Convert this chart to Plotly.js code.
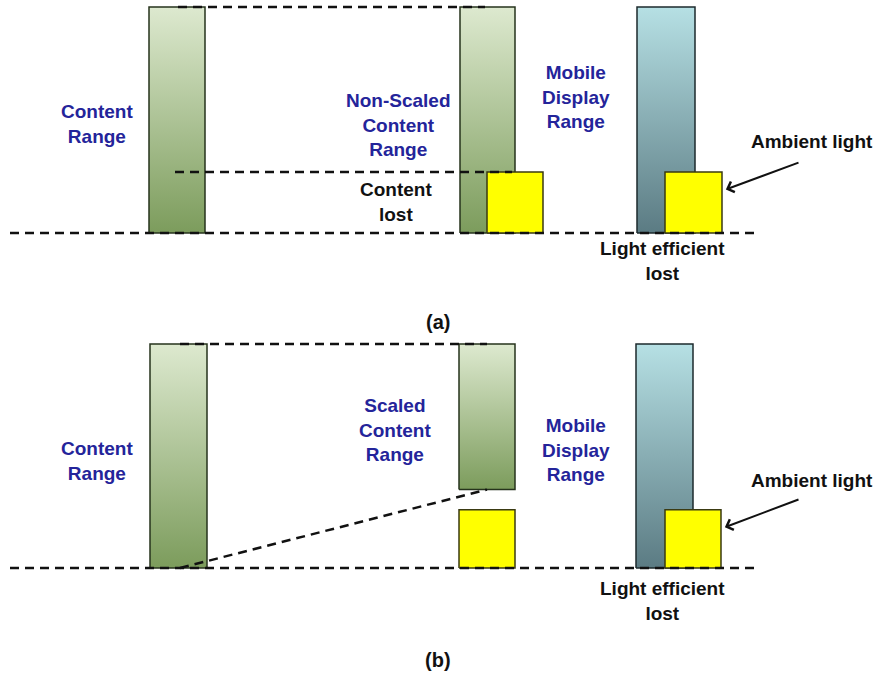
<!DOCTYPE html>
<html>
<head>
<meta charset="utf-8">
<script src="https://cdn.plot.ly/plotly-3.0.1.min.js"></script>
<style>html,body{margin:0;padding:0;background:#fff;}#chart{width:879px;height:675px;}</style>
</head>
<body>
<div id="chart"></div>
<script>
// ---- data (levels in % of content range) ----
const panelA_content = [0, 100];        // Content Range
const panelA_display = [0, 100];        // Non-scaled content on display
const panelA_mobile = [0, 100];         // Mobile display range
const panelA_ambient = [0, 27];         // Ambient light level
const panelA_lost = 27;                 // Content lost level

const panelB_content = [0, 100];
const panelB_scaled = [35, 100];        // Scaled content range
const panelB_ambientMid = [0, 26];      // ambient box under scaled content
const panelB_mobile = [0, 100];
const panelB_ambient = [0, 26];

// ---- style constants ----
const GREEN = [[0, '#7c9c5c'], [1, '#dde9cf']];
const CYAN = [[0, '#5b7b83'], [1, '#b6e0e4']];
const YELLOW = '#ffff00';
const BLUE = '#24249a';
const FONT = 'Liberation Sans, Arial, sans-serif';

function rect(x0, x1, lv, yaxis, fill, grad, line) {
  const t = {
    type: 'scatter', mode: 'lines', xaxis: 'x', yaxis: yaxis,
    x: [x0, x1, x1, x0, x0], y: [lv[0], lv[0], lv[1], lv[1], lv[0]],
    fill: 'toself', line: {color: line, width: 1.5}, hoverinfo: 'skip'
  };
  if (grad) t.fillgradient = {type: 'vertical', colorscale: grad, start: lv[0], stop: lv[1]};
  else t.fillcolor = fill;
  return t;
}
function dash(xs, ys, yaxis) {
  return {type: 'scatter', mode: 'lines', xaxis: 'x', yaxis: yaxis, x: xs, y: ys,
    line: {color: '#111', width: 2.5, dash: '9px,6px'}, hoverinfo: 'skip'};
}

const traces = [
  // panel (a)
  rect(149, 205, panelA_content, 'y', null, GREEN, '#26331c'),
  rect(460, 515, panelA_display, 'y', null, GREEN, '#26331c'),
  rect(487, 543, panelA_ambient, 'y', YELLOW, null, '#3a3a12'),
  rect(637, 695, panelA_mobile, 'y', null, CYAN, '#1d2a2d'),
  rect(665, 722, panelA_ambient, 'y', YELLOW, null, '#3a3a12'),
  dash([178, 485], [panelA_content[1], panelA_display[1]], 'y'),
  dash([175, 512], [panelA_lost, panelA_lost], 'y'),
  dash([10, 760], [0, 0], 'y'),
  // panel (b)
  rect(150, 207, panelB_content, 'y2', null, GREEN, '#26331c'),
  rect(459, 515, panelB_scaled, 'y2', null, GREEN, '#26331c'),
  rect(459, 515, panelB_ambientMid, 'y2', YELLOW, null, '#3a3a12'),
  rect(636, 693, panelB_mobile, 'y2', null, CYAN, '#1d2a2d'),
  rect(665, 721, panelB_ambient, 'y2', YELLOW, null, '#3a3a12'),
  dash([180, 487], [panelB_content[1], panelB_scaled[1]], 'y2'),
  dash([180, 487], [panelB_content[0], panelB_scaled[0]], 'y2'),
  dash([10, 760], [0, 0], 'y2')
];

function py(p) { return 1 - p / 675; }
function txt(text, x, p, color, size) {
  return {text: text, x: x, y: py(p), xref: 'x', yref: 'paper', showarrow: false,
    xanchor: 'center', yanchor: 'middle', align: 'center',
    font: {family: FONT, size: size || 19, color: color, weight: 'bold'}};
}
function arrow(x, yv, yref, ax, ay) {
  return {text: '', x: x, y: yv, xref: 'x', yref: yref, ax: ax, ay: ay,
    showarrow: true, arrowhead: 4, arrowsize: 1.1, arrowwidth: 2, arrowcolor: '#111', standoff: 2};
}

const annotations = [
  txt('<b>Content<br>Range</b>', 97, 124.5, BLUE),
  txt('<b>Non-Scaled<br>Content<br>Range</b>', 398, 125, BLUE),
  txt('<b>Content<br>lost</b>', 396, 202, '#111'),
  txt('<b>Mobile<br>Display<br>Range</b>', 576, 97, BLUE),
  txt('<b>Ambient light</b>', 812, 142, '#111'),
  txt('<b>Light efficient<br>lost</b>', 662, 261, '#111'),
  txt('<b>(a)</b>', 438, 322, '#111', 20),
  arrow(724, 19, 'y', 76, -28),
  txt('<b>Content<br>Range</b>', 97, 461, BLUE),
  txt('<b>Scaled<br>Content<br>Range</b>', 395, 430, BLUE),
  txt('<b>Mobile<br>Display<br>Range</b>', 576, 450, BLUE),
  txt('<b>Ambient light</b>', 812, 480, '#111'),
  txt('<b>Light efficient<br>lost</b>', 662, 601, '#111'),
  txt('<b>(b)</b>', 438, 660, '#111', 20),
  arrow(723, 17.9, 'y2', 77, -29)
];

const layout = {
  width: 879, height: 675,
  margin: {l: 0, r: 0, t: 0, b: 0, pad: 0},
  paper_bgcolor: '#fff', plot_bgcolor: 'rgba(0,0,0,0)',
  showlegend: false,
  xaxis: {range: [0, 879], domain: [0, 1], visible: false, fixedrange: true},
  yaxis: {range: [-29.6, 103.1], domain: [0.5556, 1], visible: false, fixedrange: true},
  yaxis2: {range: [-32.14, 104.02], domain: [0.05185, 0.5037], visible: false, fixedrange: true},
  annotations: annotations
};

Plotly.newPlot('chart', traces, layout, {displayModeBar: false, staticPlot: true});
</script>
</body>
</html>
